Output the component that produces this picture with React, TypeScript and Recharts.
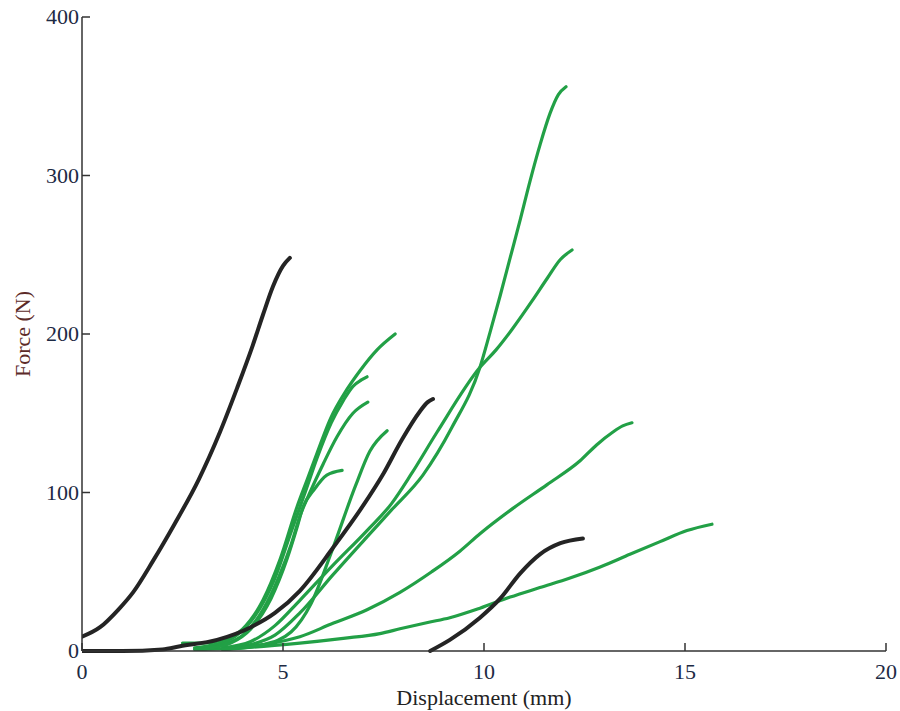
import { LineChart, Line, XAxis, YAxis } from "recharts";

// displacement (mm) / force (N) pairs
const black1 = [
  [0, 9], [0.45, 15], [0.9, 26], [1.27, 37], [1.77, 57], [2.3, 80], [2.9, 108],
  [3.43, 138], [3.86, 166], [4.25, 193], [4.5, 212], [4.75, 230], [5.0, 243], [5.17, 248],
];
const black2 = [
  [0, 0], [1, 0], [2, 1], [2.44, 3], [3.36, 7], [4.2, 15], [4.8, 24], [5.42, 38],
  [6.24, 65], [7.0, 92], [7.5, 112], [7.95, 133], [8.4, 151], [8.6, 157], [8.73, 159],
];
const black3 = [
  [8.66, 0], [9.15, 7], [9.9, 21], [10.4, 33], [10.9, 49], [11.39, 61], [11.9, 68], [12.46, 71],
];

const green1 = [
  [3.5, 1], [4.2, 4], [4.8, 10], [5.42, 24], [6.24, 48], [7.09, 72], [7.7, 89], [8.48, 111],
  [9.2, 141], [9.9, 179], [10.15, 201], [10.4, 224], [10.65, 248], [10.9, 272], [11.14, 296],
  [11.39, 319], [11.64, 339], [11.85, 351], [12.04, 356],
];
const green2 = [
  [3.5, 2], [4.2, 6], [4.8, 16], [5.42, 32], [6.24, 54], [7.09, 76], [7.7, 93], [8.2, 112],
  [8.83, 138], [9.9, 179], [10.3, 190], [10.7, 203], [11.2, 221], [11.57, 235], [11.9, 247],
  [12.19, 253],
];
const green3 = [
  [3.5, 1], [4.5, 4], [5.42, 9], [6.2, 17], [7.09, 26], [7.91, 37], [8.7, 50], [9.4, 63],
  [9.9, 74], [10.72, 90], [11.57, 105], [12.39, 120], [12.8, 130], [13.2, 138], [13.45, 142],
  [13.68, 144],
];
const green4 = [
  [2.8, 1], [4.0, 2], [5.42, 5], [6.5, 8], [7.41, 11], [7.91, 14], [8.6, 18], [9.15, 21],
  [9.9, 27], [10.65, 34], [11.39, 40], [12.14, 46], [12.89, 53], [13.63, 61], [14.38, 69],
  [15.05, 76], [15.67, 80],
];
const green5 = [
  [2.5, 5], [3.0, 5], [3.5, 7], [4.0, 14], [4.5, 32], [4.93, 58], [5.35, 91], [5.6, 108],
  [5.85, 125], [6.17, 146], [6.59, 165], [6.92, 177], [7.34, 190], [7.79, 200],
];
const green6 = [
  [2.8, 2], [3.3, 4], [3.8, 9], [4.3, 22], [4.8, 46], [5.2, 75], [5.55, 100], [5.85, 122],
  [6.2, 144], [6.5, 158], [6.74, 167], [6.95, 171], [7.09, 173],
];
const green7 = [
  [3.0, 1], [3.5, 4], [4.0, 10], [4.5, 26], [4.9, 47], [5.2, 67], [5.42, 85], [5.67, 100],
  [6.0, 118], [6.34, 135], [6.74, 150], [7.11, 157],
];
const green8 = [
  [3.5, 1], [4.5, 4], [5.2, 12], [5.7, 30], [6.2, 62], [6.8, 104], [7.16, 126], [7.59, 139],
];
const green9 = [
  [3.2, 2], [3.7, 5], [4.2, 14], [4.7, 33], [5.1, 58], [5.35, 78], [5.5, 91], [5.75, 101],
  [6.09, 111], [6.47, 114],
];

const xTicks = [0, 5, 10, 15, 20];
const yTicks = [0, 100, 200, 300, 400];

const greens = [green1, green2, green3, green4, green5, green6, green7, green8, green9];
const blacks = [black1, black2, black3];

const toRows = (arr: number[][]) => arr.map(([x, f]) => ({ x, f }));

const SERIF = "'Liberation Serif', 'Times New Roman', serif";
const TICK_COLOR = "#1d2a44";

function XTick(props: any) {
  const { x, y, payload } = props;
  return (
    <g>
      <line x1={x} x2={x} y1={y} y2={y - 8} stroke="#333" strokeWidth={1.5} />
      <text x={x} y={y + 28} textAnchor="middle" fill={TICK_COLOR} fontSize={22} fontFamily={SERIF}>
        {payload.value}
      </text>
    </g>
  );
}

function YTick(props: any) {
  const { x, y, payload } = props;
  return (
    <g>
      <line x1={x} x2={x + 8} y1={y} y2={y} stroke="#333" strokeWidth={1.5} />
      <text x={x - 3} y={y + 7} textAnchor="end" fill={TICK_COLOR} fontSize={22} fontFamily={SERIF}>
        {payload.value}
      </text>
    </g>
  );
}

function YLabel(props: any) {
  const vb = props.viewBox ?? { x: 0, y: 17, width: 82, height: 634 };
  const cx = 22;
  const cy = vb.y + vb.height / 2;
  return (
    <text
      x={cx}
      y={cy}
      textAnchor="middle"
      dominantBaseline="central"
      transform={`rotate(-90, ${cx}, ${cy})`}
      fill="#5c2a28"
      fontSize={22}
      fontFamily={SERIF}
    >
      Force (N)
    </text>
  );
}

function XLabel(props: any) {
  const vb = props.viewBox ?? { x: 82, y: 651, width: 804, height: 60 };
  return (
    <text
      x={vb.x + vb.width / 2}
      y={705}
      textAnchor="middle"
      fill="#222"
      fontSize={22}
      fontFamily={SERIF}
    >
      Displacement (mm)
    </text>
  );
}

export default function App() {
  return (
    <div style={{ position: "absolute", left: 0, top: 0, background: "#fff" }}>
      <LineChart width={900} height={711} margin={{ top: 17, right: 14, bottom: 0, left: 0 }}>
        <XAxis
          dataKey="x"
          type="number"
          domain={[0, 20]}
          ticks={xTicks}
          allowDataOverflow
          height={60}
          tickSize={0}
          tickMargin={0}
          tickLine={false}
          tick={<XTick />}
          axisLine={{ stroke: "#333", strokeWidth: 1.5 }}
          label={<XLabel />}
        />
        <YAxis
          dataKey="f"
          type="number"
          domain={[0, 400]}
          ticks={yTicks}
          width={82}
          tickSize={0}
          tickMargin={0}
          tickLine={false}
          tick={<YTick />}
          axisLine={{ stroke: "#333", strokeWidth: 1.5 }}
          label={<YLabel />}
        />
        {greens.map((g, i) => (
          <Line
            key={`g${i}`}
            data={toRows(g)}
            dataKey="f"
            type="monotone"
            stroke="#22a046"
            strokeWidth={3.2}
            dot={false}
            strokeLinecap="round"
            isAnimationActive={false}
          />
        ))}
        {blacks.map((b, i) => (
          <Line
            key={`b${i}`}
            data={toRows(b)}
            dataKey="f"
            type="monotone"
            stroke="#242424"
            strokeWidth={4}
            dot={false}
            strokeLinecap="round"
            isAnimationActive={false}
          />
        ))}
      </LineChart>
    </div>
  );
}
